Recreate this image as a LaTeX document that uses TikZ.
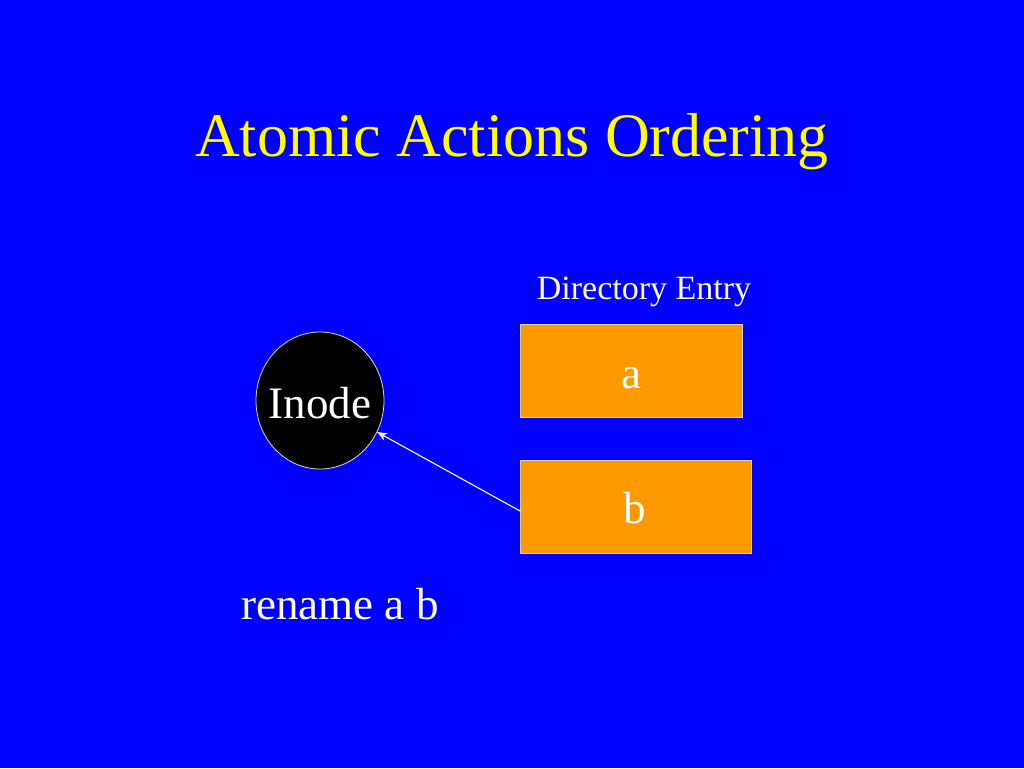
\documentclass[tikz,border=0pt]{standalone}
\usepackage{fontspec}
\setmainfont{Liberation Serif}
\usetikzlibrary{shapes.geometric,arrows.meta}
\definecolor{slideblue}{HTML}{0000FF}
\definecolor{boxorange}{HTML}{FF9900}
\definecolor{titleyellow}{HTML}{FFFF00}
\tikzset{
  lbl/.style={inner sep=0pt, anchor=base, text=white},
  entrybox/.style={draw=white!85!black, line width=0.8pt, fill=boxorange, inner sep=0pt},
  link/.style={draw=white, line width=1.1pt, -{Stealth[length=10pt,width=8pt]}}
}
\begin{document}
\begin{tikzpicture}[x=1pt,y=-1pt]
\fill[slideblue] (0,0) rectangle (1024,768);
\useasboundingbox (0,0) rectangle (1024,768);
\node[lbl, text=titleyellow, font=\fontsize{62}{68}\selectfont] (title) at (512,156) {Atomic Actions Ordering};
\node[lbl, font=\fontsize{34}{40}\selectfont] (dirlabel) at (644,299) {Directory Entry};
\node[draw=white!85!black, line width=0.8pt, fill=black, ellipse, minimum width=128pt, minimum height=137pt, inner sep=0pt] (inode) at (320,400.5) {};
\node[lbl, font=\fontsize{45}{50}\selectfont] (inodetext) at (320,418) {Inode};
\node[entrybox, minimum width=222pt, minimum height=93pt] (a) at (631,370.5) {};
\node[lbl, font=\fontsize{45}{50}\selectfont] (atext) at (631,388) {a};
\node[entrybox, minimum width=231pt, minimum height=93pt] (b) at (635.5,506.5) {};
\node[lbl, font=\fontsize{45}{50}\selectfont] (btext) at (635,523) {b};
\node[lbl, font=\fontsize{45}{50}\selectfont] (cmd) at (340,619) {rename a b};
\coordinate (bstart) at (520,511);
\draw[link] (bstart) -- (inode);
\end{tikzpicture}
\end{document}
